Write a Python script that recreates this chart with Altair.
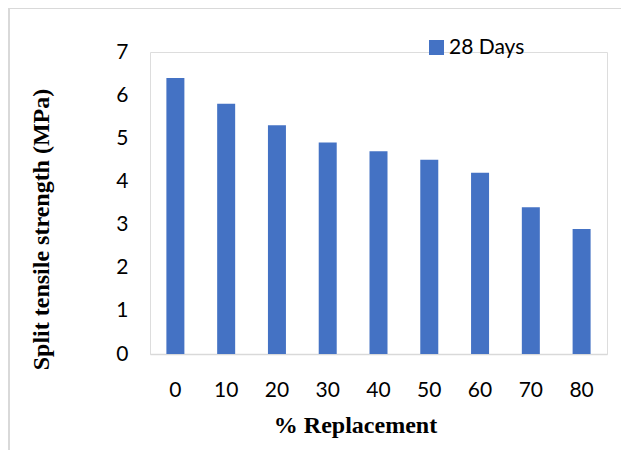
import altair as alt
import pandas as pd

categories = ["0", "10", "20", "30", "40", "50", "60", "70", "80"]
values = [6.4, 5.8, 5.3, 4.9, 4.7, 4.5, 4.2, 3.4, 2.9]
series = "28 Days"

df = pd.DataFrame({"cat": categories, "val": values, "series": series})

W, H = 457, 302

bars = alt.Chart(df).mark_bar(size=18).encode(
    x=alt.X("cat:N", sort=categories, title="% Replacement",
            scale=alt.Scale(paddingInner=0.64, paddingOuter=0.32),
            axis=alt.Axis(labelAngle=0, labelFont="Lato", labelFontSize=21,
                          labelColor="#000000", labelPadding=25, ticks=False,
                          domainColor="#d9d9d9", domainWidth=1.5,
                          titleFont="Liberation Serif", titleFontSize=24,
                          titleFontWeight="bold", titleColor="#000000",
                          titleX=205, titleY=71, titleAlign="center",
                          titleBaseline="middle")),
    y=alt.Y("val:Q", title="Split tensile strength (MPa)",
            scale=alt.Scale(domain=[0, 7], nice=False),
            axis=alt.Axis(values=[0, 1, 2, 3, 4, 5, 6, 7], grid=False,
                          domain=False, ticks=False, labelFont="Lato",
                          labelFontSize=21, labelColor="#000000",
                          labelPadding=22,
                          titleFont="Liberation Serif", titleFontSize=24,
                          titleFontWeight="bold", titleColor="#000000",
                          titleX=-109, titleY=177, titleAngle=-90,
                          titleAlign="center", titleBaseline="middle")),
    color=alt.Color("series:N", scale=alt.Scale(range=["#4472C4"]),
                    legend=alt.Legend(title=None, orient="none", legendX=276,
                                      legendY=-15, symbolType="square",
                                      symbolSize=225, symbolStrokeWidth=0,
                                      labelFont="Lato", labelFontSize=21,
                                      labelColor="#000000", labelOffset=2)),
)

border_v = alt.Chart(df).mark_rule(color="#d9d9d9", strokeWidth=1.5).encode(
    x=alt.value(-141), y=alt.value(-44), y2=alt.value(420))
border_h = alt.Chart(df).mark_rule(color="#d9d9d9", strokeWidth=1.5).encode(
    x=alt.value(-141), x2=alt.value(480), y=alt.value(-44))

chart = alt.layer(border_v, border_h, bars).properties(
    width=W, height=H,
    padding={"left": 142, "top": 44, "right": 14, "bottom": 96},
    autosize=alt.AutoSizeParams(type="none"),
).configure_view(stroke=None).configure(background="white")

chart.save("out.html", embed_options={"renderer": "svg", "actions": False})
